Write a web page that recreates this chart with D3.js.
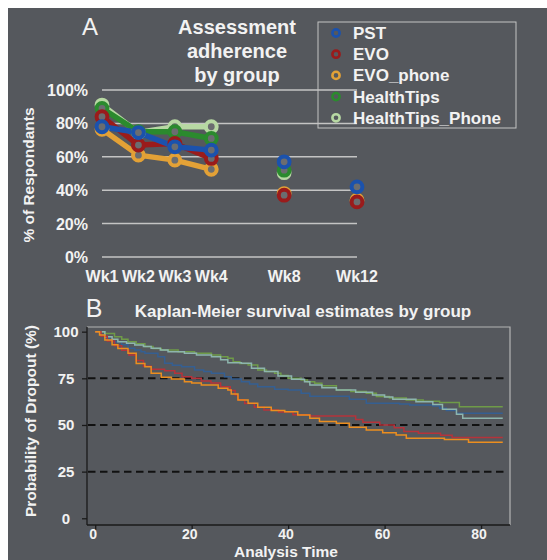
<!DOCTYPE html>
<html>
<head>
<meta charset="utf-8">
<script src="https://cdn.jsdelivr.net/npm/d3@7"></script>
<style>
  body { margin: 0; background: #fff; }
  svg text { font-family: "Liberation Sans", Arial, Helvetica, sans-serif; fill: #f2f2f2; }
</style>
</head>
<body>
<div id="chart"></div>
<script>
// ---- panel A data ----
var weekSlots = ["Wk1", "Wk2", "Wk3", "Wk4", "gap1", "Wk8", "gap2", "Wk12"];
var weekLabels = ["Wk1", "Wk2", "Wk3", "Wk4", "Wk8", "Wk12"];
var groups = ["PST", "EVO", "EVO_phone", "HealthTips", "HealthTips_Phone"];
var pctTicks = [0, 20, 40, 60, 80, 100];

var adhPST = [78, 74.5, 66, 64, 57, 42];
var adhEVO = [84, 67, 68, 59, 37, 33];
var adhEVOphone = [76.5, 61, 58, 52.5, 38, 34];
var adhHealthTips = [89, 75, 75, 71, 52, null];
var adhHealthTipsPhone = [91, 74.5, 78, 78, 50.5, null];

// ---- panel B data (time, % remaining) ----
var kmPST = [[0,100],[1,98.5],[2,96.5],[3,95.5],[4,94.6],[5.5,93],[6.8,91.1],[8.2,90.2],[9.5,89.3],[10.3,88.4],[13,86.6],[14.4,83.1],[16,82],[17.9,81.2],[20.6,79.5],[22.5,78.6],[24.1,77.7],[26.8,75.9],[28.2,74.6],[30.3,73.2],[32,72],[33.7,70.5],[37.2,69.1],[40,68.8],[42.7,67],[44.5,65.4],[52.7,63.8],[56.2,61.6],[63.1,61.3],[65.2,60.7],[70,60.2],[71.4,59],[72.8,57.7],[74.9,56.3],[84.5,56.3]];
var kmEVO = [[0,100],[1.2,97.5],[2.5,95],[4,92.5],[5.5,90],[7,87.5],[8.5,84.5],[10,81.5],[11.6,79.8],[14.4,79],[16.5,77.7],[18,75.9],[20,75],[22,73.5],[24,72.5],[26,70.5],[28,68.5],[29,66],[29.6,63.5],[31,61.5],[33,59.5],[35,58],[38,57],[41,55.5],[44.5,54.8],[54,53],[55.5,51.5],[59,50],[62,48.5],[64,46.5],[67,45.5],[71.6,44.5],[74,43.3],[84.5,43.3]];
var kmEVOphone = [[0,100],[0.9,98.2],[2,95.6],[3.5,93],[4.7,91],[6.8,88.4],[8.5,83],[10.3,81.2],[11.6,77.7],[13.7,75.6],[15.8,74.6],[18.5,73.2],[20,72.5],[22,71.4],[25.5,69.7],[27.5,68.8],[28.2,66.6],[29.6,63.4],[31.7,61.6],[33.7,59.5],[36.5,57.7],[39.3,57.1],[42,55.4],[44.5,53.6],[46.5,51.8],[50,50.9],[52.7,48.8],[56.2,47.3],[59.6,45.9],[62.4,44.6],[64.5,42.9],[72.4,42.2],[77.4,40.8],[84.5,40.8]];
var kmHealthTips = [[0,100],[2,99],[4,97.3],[5.5,96],[6.8,94.6],[8.5,93.5],[10.3,92],[12,91],[13.7,90.2],[17.2,89.3],[20.6,88.4],[24.1,87.5],[26,86.6],[27.5,85.7],[28.6,83.9],[30,83],[31.7,82.2],[33.7,79.5],[35.5,78.6],[37.2,77.7],[38.5,76.5],[40,75],[42.7,74.1],[44,73.2],[45.5,72.3],[47,71],[50,68.8],[53,68],[56.2,67],[58.3,65.2],[61,64.5],[64.5,63.4],[68,62.7],[71.4,62],[75.5,59.8],[84.5,59.8]];
var kmHealthTipsPhone = [[0,100],[2,97.3],[3.5,96],[4.7,94.6],[6.5,93.8],[8.2,92.9],[10,92],[11.6,91.1],[13.5,90.2],[15.1,89.3],[18.5,88.4],[21,87.5],[24.1,86.6],[26,85],[27.5,83.4],[30.3,83.1],[32.4,80.4],[35.1,78.6],[37.9,76.3],[40.7,74.5],[43.4,73.2],[44.5,71.4],[47,70],[50,68.8],[54,67.5],[57.5,66],[60,65],[61.7,63.8],[66.5,62.5],[70,61],[72,58.4],[74.9,55.7],[76.2,53.6],[84.5,53.6]];
var kmYTicks = [0, 25, 50, 75, 100];
var kmXTicks = [0, 20, 40, 60, 80];

var colorsA = {PST: "#1b52ad", EVO: "#9a1b1b", EVO_phone: "#e3a136", HealthTips: "#2b8a2e", HealthTips_Phone: "#b7d8a3"};
var colorsB = {PST: "#355f92", EVO: "#b5333b", EVO_phone: "#ec8e1f", HealthTips: "#6f9b48", HealthTips_Phone: "#8db5ad"};

var W = 547, H = 560, bg = "#55585d";

var svg = d3.select("#chart").append("svg")
    .attr("width", W).attr("height", H);

svg.append("rect").attr("x", 8).attr("y", 8)
    .attr("width", W - 8).attr("height", H - 8).attr("fill", bg);

// ================= Panel A =================
var adh = {
    PST: adhPST, EVO: adhEVO, EVO_phone: adhEVOphone,
    HealthTips: adhHealthTips, HealthTips_Phone: adhHealthTipsPhone
};
var drawOrderA = ["HealthTips_Phone", "EVO_phone", "HealthTips", "EVO", "PST"];

var xA = d3.scalePoint().domain(weekSlots).range([102, 357]);
var yA = d3.scaleLinear().domain([0, 100]).range([257, 90]);

var gA = svg.append("g");

gA.append("text").attr("x", 90).attr("y", 35).attr("text-anchor", "middle")
    .style("font-size", "24px").text("A");

["Assessment", "adherence", "by group"].forEach(function (t, i) {
    gA.append("text").attr("x", 237).attr("y", 34 + i * 24)
        .attr("text-anchor", "middle")
        .style("font-size", "20px").style("font-weight", "bold").text(t);
});

// gridlines + y labels
gA.selectAll(".grid").data(pctTicks).enter().append("line")
    .attr("x1", xA("Wk1")).attr("x2", xA("Wk12"))
    .attr("y1", function (d) { return yA(d); })
    .attr("y2", function (d) { return yA(d); })
    .attr("stroke", "#c4c4c4").attr("stroke-width", 1.5);

gA.selectAll(".ylab").data(pctTicks).enter().append("text")
    .attr("x", 88).attr("y", function (d) { return yA(d) + 6; })
    .attr("text-anchor", "end")
    .style("font-size", "16px").style("font-weight", "bold")
    .text(function (d) { return d + "%"; });

gA.selectAll(".xlab").data(weekLabels).enter().append("text")
    .attr("x", function (d) { return xA(d); }).attr("y", 282)
    .attr("text-anchor", "middle")
    .style("font-size", "16px").style("font-weight", "bold")
    .text(function (d) { return d; });

gA.append("text")
    .attr("transform", "translate(34,175) rotate(-90)")
    .attr("text-anchor", "middle")
    .style("font-size", "15.5px").style("font-weight", "bold")
    .text("% of Respondants");

var lineA = d3.line()
    .x(function (d) { return xA(d.w); })
    .y(function (d) { return yA(d.v); });

drawOrderA.forEach(function (g) {
    var pts = weekLabels.map(function (w, i) { return {w: w, v: adh[g][i]}; });
    gA.append("path")
        .datum(pts.slice(0, 4))
        .attr("d", lineA)
        .attr("fill", "none")
        .attr("stroke", colorsA[g])
        .attr("stroke-width", 5.5)
        .attr("stroke-linejoin", "round");
});
drawOrderA.forEach(function (g) {
    var pts = weekLabels.map(function (w, i) { return {w: w, v: adh[g][i]}; })
        .filter(function (d) { return d.v != null; });
    gA.selectAll(null).data(pts).enter().append("circle")
        .attr("cx", function (d) { return xA(d.w); })
        .attr("cy", function (d) { return yA(d.v); })
        .attr("r", 5.4)
        .attr("fill", "#6b6d70")
        .attr("stroke", colorsA[g])
        .attr("stroke-width", 4);
});

// legend
var leg = gA.append("g");
leg.append("rect").attr("x", 318).attr("y", 22).attr("width", 198).attr("height", 106)
    .attr("fill", "none").attr("stroke", "#c4c4c4").attr("stroke-width", 1);
groups.forEach(function (g, i) {
    var yy = 33 + i * 21.2;
    leg.append("circle").attr("cx", 336).attr("cy", yy).attr("r", 3.6)
        .attr("fill", "none").attr("stroke", colorsA[g]).attr("stroke-width", 2.6);
    leg.append("text").attr("x", 353).attr("y", yy + 6)
        .style("font-size", "17px").style("font-weight", "bold").text(g);
});

// ================= Panel B =================
var km = {
    PST: kmPST, EVO: kmEVO, EVO_phone: kmEVOphone,
    HealthTips: kmHealthTips, HealthTips_Phone: kmHealthTipsPhone
};
var drawOrderB = ["PST", "HealthTips", "HealthTips_Phone", "EVO", "EVO_phone"];

var bLeft = 87, bRight = 510, bTop = 327, bBottom = 525;
var xB = d3.scaleLinear().domain([-1.7, 86]).range([bLeft, bRight]);
var yB = d3.scaleLinear().domain([-3.6, 102.5]).range([bBottom, bTop]);

var gB = svg.append("g");

gB.append("text").attr("x", 94).attr("y", 317).attr("text-anchor", "middle")
    .style("font-size", "25px").text("B");
gB.append("text").attr("x", 303).attr("y", 317).attr("text-anchor", "middle")
    .style("font-size", "17px").style("font-weight", "bold")
    .text("Kaplan-Meier survival estimates by group");

// light frame top/right
gB.append("path")
    .attr("d", "M" + bLeft + "," + bTop + "H" + bRight + "V" + bBottom)
    .attr("fill", "none").attr("stroke", "#b4b4b4").attr("stroke-width", 1.2);

// dashed reference lines
gB.selectAll(".ref").data([25, 50, 75]).enter().append("line")
    .attr("x1", bLeft + 1).attr("x2", bRight - 3)
    .attr("y1", function (d) { return yB(d); })
    .attr("y2", function (d) { return yB(d); })
    .attr("stroke", "#111").attr("stroke-width", 2)
    .attr("stroke-dasharray", "7.5,4.5");

var yAxisB = d3.axisLeft(yB).tickValues(kmYTicks).tickSize(5).tickFormat("");
var xAxisB = d3.axisBottom(xB).tickValues(kmXTicks).tickSize(5).tickFormat("");

gB.append("g").attr("transform", "translate(" + bLeft + ",0)").call(yAxisB)
    .call(function (s) {
        s.select(".domain").attr("stroke", "#1a1a1a").attr("stroke-width", 1.3)
            .attr("d", "M0," + bTop + "V" + bBottom);
        s.selectAll(".tick line").attr("stroke", "#1a1a1a").attr("stroke-width", 1.3);
    });
gB.append("g").attr("transform", "translate(0," + bBottom + ")").call(xAxisB)
    .call(function (s) {
        s.select(".domain").attr("stroke", "#1a1a1a").attr("stroke-width", 1.3)
            .attr("d", "M" + bLeft + ",0H" + bRight);
        s.selectAll(".tick line").attr("stroke", "#1a1a1a").attr("stroke-width", 1.3);
    });

gB.selectAll(".yl").data(kmYTicks).enter().append("text")
    .attr("x", 66).attr("y", function (d) { return yB(d) + 5.5; })
    .attr("text-anchor", "middle")
    .style("font-size", "15px").style("font-weight", "bold")
    .text(function (d) { return d; });
gB.selectAll(".xl").data(kmXTicks).enter().append("text")
    .attr("x", function (d) { return xB(d) - 2; }).attr("y", 539)
    .attr("text-anchor", "middle")
    .style("font-size", "14px").style("font-weight", "bold")
    .text(function (d) { return d; });

gB.append("text").attr("x", 286).attr("y", 556.5).attr("text-anchor", "middle")
    .style("font-size", "15.5px").style("font-weight", "bold").text("Analysis Time");
gB.append("text")
    .attr("transform", "translate(36,421) rotate(-90)")
    .attr("text-anchor", "middle")
    .style("font-size", "15.5px").style("font-weight", "bold")
    .text("Probability of Dropout (%)");

var stepLine = d3.line()
    .x(function (d) { return xB(d[0]); })
    .y(function (d) { return yB(d[1]); })
    .curve(d3.curveStepAfter);

drawOrderB.forEach(function (g) {
    gB.append("path").datum(km[g]).attr("d", stepLine)
        .attr("fill", "none").attr("stroke", colorsB[g]).attr("stroke-width", 1.5);
});
</script>
</body>
</html>
